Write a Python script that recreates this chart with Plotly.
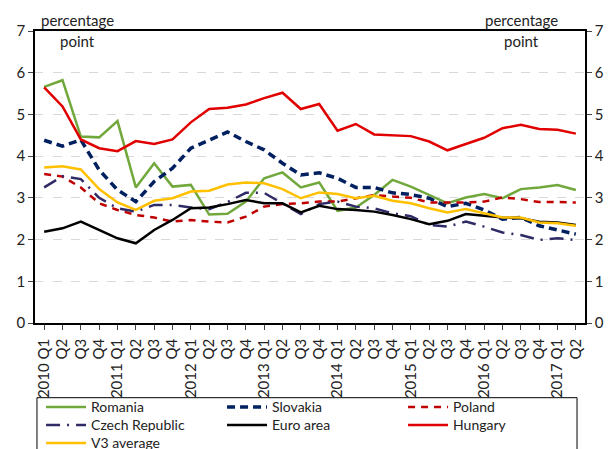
import plotly.graph_objects as go

# quarters 2010 Q1 .. 2017 Q2
quarters = []
for yr in range(2010, 2018):
    for q in range(1, 5):
        if yr == 2017 and q > 2:
            break
        quarters.append(f"{yr} Q{q}" if q == 1 else f"Q{q}")
cats = list(range(len(quarters)))

romania = [5.66, 5.82, 4.47, 4.45, 4.84, 3.25, 3.83, 3.27, 3.31, 2.60, 2.62,
           2.91, 3.47, 3.61, 3.25, 3.37, 2.69, 2.77, 3.07, 3.43, 3.27,
           3.07, 2.87, 3.01, 3.09, 2.99, 3.21, 3.25, 3.31, 3.19]
slovakia = [4.38, 4.24, 4.39, 3.67, 3.19, 2.91, 3.39, 3.71, 4.19, 4.39, 4.58,
            4.35, 4.15, 3.83, 3.55, 3.60, 3.47, 3.25, 3.25, 3.12, 3.08,
            2.99, 2.79, 2.87, 2.71, 2.49, 2.53, 2.33, 2.23, 2.13]
poland = [3.57, 3.51, 3.25, 2.87, 2.71, 2.59, 2.53, 2.43, 2.47, 2.43, 2.41,
          2.55, 2.79, 2.85, 2.87, 2.91, 2.91, 2.99, 3.07, 3.03, 3.00,
          2.89, 2.89, 2.89, 2.91, 3.01, 2.97, 2.90, 2.90, 2.89]
czech = [3.25, 3.52, 3.45, 3.00, 2.75, 2.67, 2.83, 2.83, 2.77, 2.73, 2.90,
         3.12, 3.12, 2.86, 2.61, 2.85, 2.91, 2.79, 2.75, 2.63, 2.56,
         2.35, 2.31, 2.43, 2.31, 2.17, 2.11, 1.99, 2.03, 1.99]
euro = [2.19, 2.27, 2.43, 2.23, 2.03, 1.91, 2.23, 2.47, 2.75, 2.77, 2.85,
        2.95, 2.87, 2.87, 2.65, 2.81, 2.73, 2.71, 2.67, 2.59, 2.49,
        2.37, 2.45, 2.61, 2.57, 2.53, 2.51, 2.43, 2.41, 2.35]
hungary = [5.65, 5.19, 4.40, 4.19, 4.12, 4.36, 4.29, 4.40, 4.81, 5.13, 5.16,
           5.24, 5.39, 5.52, 5.13, 5.25, 4.61, 4.77, 4.52, 4.50, 4.48,
           4.35, 4.14, 4.29, 4.44, 4.67, 4.75, 4.65, 4.63, 4.54]
v3 = [3.73, 3.76, 3.68, 3.21, 2.89, 2.71, 2.93, 2.99, 3.15, 3.17, 3.32,
      3.37, 3.35, 3.21, 2.99, 3.13, 3.09, 2.99, 3.05, 2.93, 2.87,
      2.75, 2.65, 2.73, 2.63, 2.53, 2.53, 2.41, 2.39, 2.33]

# name, values, colour, dash, width, legend row
series = [
    ("Romania", romania, "#70A83C", "solid", 2.5, "legend"),
    ("Slovakia", slovakia, "#002060", "8px,5px", 3.5, "legend"),
    ("Poland", poland, "#C00000", "7px,6px", 2.5, "legend"),
    ("Czech Republic", czech, "#2F2B66", "14px,7px,2px,7px", 2.5, "legend2"),
    ("Euro area", euro, "#000000", "solid", 2.5, "legend2"),
    ("Hungary", hungary, "#E00000", "solid", 2.5, "legend2"),
    ("V3 average", v3, "#FFC000", "solid", 2.5, "legend3"),
]

fig = go.Figure()
for name, vals, color, dash, width, leg in series:
    fig.add_trace(go.Scatter(x=cats, y=vals, mode="lines", name=name, legend=leg,
                             line=dict(color=color, dash=dash, width=width)))

# invisible trace for right axis
fig.add_trace(go.Scatter(x=cats, y=euro, yaxis="y2", mode="lines",
                         line=dict(width=0), showlegend=False, hoverinfo="skip"))

font = "Lato, 'Open Sans', sans-serif"
ann = dict(xref="paper", yref="paper", showarrow=False, xanchor="center",
           yanchor="middle", font=dict(size=15))
leg_common = dict(orientation="h", x=0.011, xanchor="left", yanchor="top",
                  borderwidth=0, bgcolor="rgba(0,0,0,0)", font=dict(size=14),
                  entrywidth=126, entrywidthmode="pixels", itemwidth=40,
                  tracegroupgap=0)
fig.update_layout(
    width=609, height=449,
    margin=dict(l=35, r=24, t=31, b=126, autoexpand=False),
    paper_bgcolor="white", plot_bgcolor="white",
    font=dict(family=font, size=14, color="#222222"),
    showlegend=True,
    legend=dict(leg_common, y=-0.2342),
    legend2=dict(leg_common, y=-0.2959),
    legend3=dict(leg_common, y=-0.3575),
    xaxis=dict(tickmode="array", tickvals=cats, ticktext=quarters,
               tickangle=-90, range=[-0.5, len(cats) - 0.5], automargin=False,
               showline=True, linecolor="#000000", linewidth=1.5, mirror=True,
               ticks="outside", ticklen=5, tickson="boundaries",
               ticklabelstandoff=3,
               showgrid=False, tickfont=dict(size=15, color="#222222")),
    yaxis=dict(range=[0, 7], dtick=1, showline=True, linecolor="#000000",
               linewidth=1.5, ticks="outside", ticklen=5, automargin=False,
               showgrid=True, gridcolor="#D9D9D9", griddash="dash", gridwidth=1,
               zeroline=False, tickfont=dict(size=15)),
    yaxis2=dict(range=[0, 7], dtick=1, overlaying="y", side="right",
                showline=True, linecolor="#000000", linewidth=1.5, automargin=False,
                ticks="outside", ticklen=5, showgrid=False, zeroline=False,
                tickfont=dict(size=15)),
    annotations=[
        dict(ann, text="percentage", x=0.078, y=1.038),
        dict(ann, text="point", x=0.078, y=0.966),
        dict(ann, text="percentage", x=0.885, y=1.038),
        dict(ann, text="point", x=0.885, y=0.966),
    ],
    # frame around the three legend rows (runs off the bottom edge)
    shapes=[dict(type="rect", xref="paper", yref="paper",
                 x0=0.0036, x1=0.9855, y0=-0.2558, y1=-0.5,
                 line=dict(color="#000000", width=1), layer="above")],
)

# drop the browser's default page margin so the figure sits at the window corner
fig.write_html("out.html", config={"displayModeBar": False},
               post_script="document.body.style.margin='0';")
